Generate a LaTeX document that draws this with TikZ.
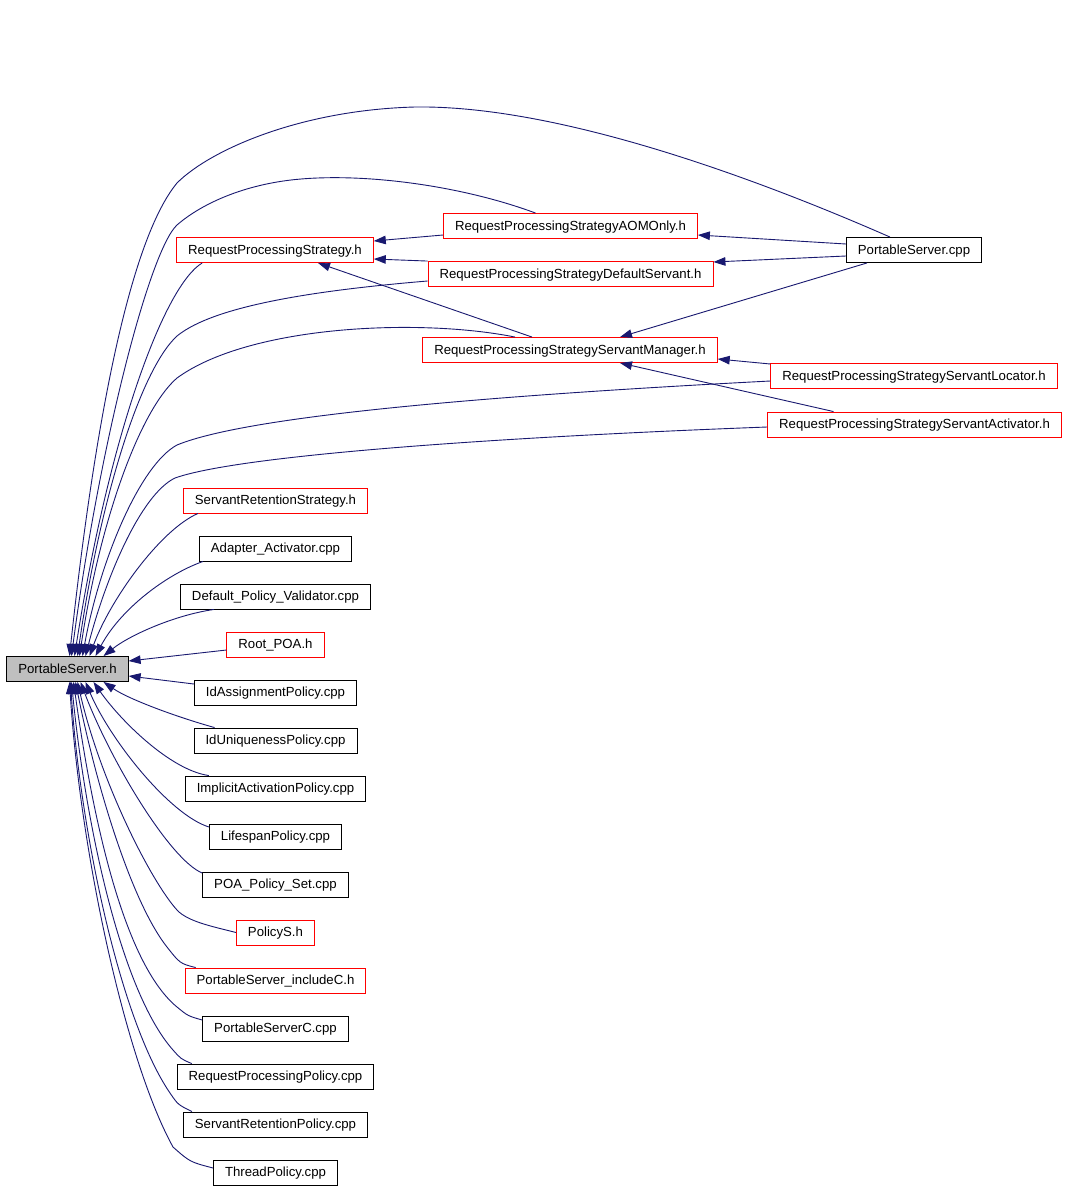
\documentclass[tikz,border=0pt]{standalone}
\usepackage{fontspec}
\setmainfont{Liberation Sans}
\usetikzlibrary{calc,arrows.meta}
\definecolor{edgeblue}{RGB}{25,25,112}
\definecolor{filegray}{RGB}{191,191,191}

\tikzset{
  file/.style={draw=black, line width=0.9pt, minimum height=25pt, inner xsep=11.5pt, inner ysep=0pt,
    text height=10.3pt, text depth=2.3pt, font=\fontsize{13.2}{15}\selectfont},
  redfile/.style={file, draw=red},
  edge/.style={draw=edgeblue, line width=0.9pt, -{Triangle[length=12pt,width=8.5pt]}}
}

\begin{document}
\begin{tikzpicture}[x=1pt,y=-1pt]
\fill[white] (0,0) rectangle (1067,1189);
\useasboundingbox (0,0) rectangle (1067,1189);

% Files
\node[file, fill=filegray] (psh) at (67.5,669) {PortableServer.h};
\node[redfile] (rps) at (275,250) {RequestProcessingStrategy.h};
\node[redfile] (aom) at (570.5,226) {RequestProcessingStrategyAOMOnly.h};
\node[redfile] (dflt) at (570.5,274) {RequestProcessingStrategyDefaultServant.h};
\node[file] (pscpp) at (914,250) {PortableServer.cpp};
\node[redfile] (mgr) at (570,350) {RequestProcessingStrategyServantManager.h};
\node[redfile] (loc) at (914,376) {RequestProcessingStrategyServantLocator.h};
\node[redfile] (act) at (914.5,424.5) {RequestProcessingStrategyServantActivator.h};

% Left column
\node[redfile] (srs) at (275.5,500.5) {ServantRetentionStrategy.h};
\node[file] (adact) at (275.5,548.5) {Adapter\_Activator.cpp};
\node[file] (dpv) at (275.5,596.5) {Default\_Policy\_Validator.cpp};
\node[redfile] (rpoa) at (275.5,644.5) {Root\_POA.h};
\node[file] (idap) at (275.5,692.5) {IdAssignmentPolicy.cpp};
\node[file] (iup) at (275.5,740.5) {IdUniquenessPolicy.cpp};
\node[file] (iap) at (275.5,788.5) {ImplicitActivationPolicy.cpp};
\node[file] (lsp) at (275.5,836.5) {LifespanPolicy.cpp};
\node[file] (pps) at (275.5,884.5) {POA\_Policy\_Set.cpp};
\node[redfile] (pols) at (275.5,932.5) {PolicyS.h};
\node[redfile] (psinc) at (275.5,980.5) {PortableServer\_includeC.h};
\node[file] (psc) at (275.5,1028.5) {PortableServerC.cpp};
\node[file] (rpp) at (275.5,1076.5) {RequestProcessingPolicy.cpp};
\node[file] (srp) at (275.5,1124.5) {ServantRetentionPolicy.cpp};
\node[file] (thp) at (275.5,1172.5) {ThreadPolicy.cpp};

% Edges between the strategy files
\draw[edge] ($(aom.west)+(0,9)$) -- ($(rps.east)+(0,-9)$);
\draw[edge] (dflt.north west) -- ($(rps.east)+(0,9)$);
\draw[edge] ($(mgr.north)+(-38,0)$) -- ($(rps.south)+(43,0)$);
\draw[edge] ($(pscpp.west)+(0,-6)$) -- ($(aom.east)+(0,9)$);
\draw[edge] ($(pscpp.west)+(0,6)$) -- ($(dflt.east)+(0,-12)$);
\draw[edge] ($(pscpp.south)+(-47,0)$) -- ($(mgr.north)+(50,0)$);
\draw[edge] ($(loc.west)+(0,-12)$) -- ($(mgr.east)+(0,9)$);
\draw[edge] ($(act.north)+(-81,0)$) -- ($(mgr.south)+(50,0)$);

% Edges into PortableServer.h from above
\draw[edge] ($(pscpp.north)+(-24,0)$) .. controls (760,180) and (560,105) .. (415,107)
  .. controls (300,110) and (210,150) .. (177,183)
  .. controls (130,240) and (95,420) .. ($(psh.north)+(2,0)$);
\draw[edge] ($(aom.north)+(-35,0)$) .. controls (460,185) and (360,172) .. (291,180)
  .. controls (240,186) and (200,205) .. (177,225)
  .. controls (150,250) and (100,440) .. ($(psh.north)+(4,0)$);
\draw[edge] ($(rps.south west)+(26,0)$) .. controls (165,285) and (110,430) .. ($(psh.north)+(7,0)$);
\draw[edge] ($(dflt.west)+(0,7)$) .. controls (320,290) and (215,305) .. (177,336)
  .. controls (140,370) and (100,500) .. ($(psh.north)+(10,0)$);
\draw[edge] ($(mgr.north)+(-55,0)$) .. controls (420,318) and (250,325) .. (177,378)
  .. controls (140,410) and (100,520) .. ($(psh.north)+(12,0)$);
\draw[edge] ($(loc.west)+(0,5)$) .. controls (500,395) and (250,415) .. (177,445)
  .. controls (140,465) and (100,560) .. ($(psh.north)+(15,0)$);
\draw[edge] ($(act.west)+(0,2.5)$) .. controls (500,437) and (240,455) .. (175,478)
  .. controls (140,495) and (105,580) .. ($(psh.north)+(18,0)$);
\draw[edge] ($(srs.south west)+(15,0)$) .. controls (160,530) and (110,600) .. ($(psh.north)+(22,0)$);
\draw[edge] ($(adact.south west)+(4,0)$) .. controls (165,575) and (120,610) .. ($(psh.north)+(28,0)$);
\draw[edge] ($(dpv.south west)+(34,0)$) .. controls (175,615) and (130,635) .. ($(psh.north)+(36,0)$);

% Edges into PortableServer.h from the side and below
\draw[edge] ($(rpoa.west)+(0,5.5)$) -- ($(psh.east)+(0,-8)$);
\draw[edge] ($(idap.west)+(0,-8.5)$) -- ($(psh.east)+(0,7)$);
\draw[edge] ($(iup.north west)+(21,0)$) .. controls (180,718) and (130,700) .. ($(psh.south)+(36,0)$);
\draw[edge] ($(iap.north west)+(24,0)$) .. controls (170,770) and (120,720) .. ($(psh.south)+(26,0)$);
\draw[edge] ($(lsp.west)+(0,-9.5)$) .. controls (170,815) and (110,740) .. ($(psh.south)+(18,0)$);
\draw[edge] ($(pps.west)+(0,-11.5)$) .. controls (170,860) and (110,760) .. ($(psh.south)+(13,0)$);
\draw[edge] (pols.west) .. controls (215,927) and (188,922) .. (177,910)
  .. controls (150,880) and (100,780) .. ($(psh.south)+(10,0)$);
\draw[edge] ($(psinc.north west)+(11,0)$) .. controls (180,963.5) .. (167,947)
  .. controls (130,900) and (95,780) .. ($(psh.south)+(8,0)$);
\draw[edge] ($(psc.west)+(0,-8.5)$) .. controls (188,1016) .. (177,1007)
  .. controls (120,960) and (90,800) .. ($(psh.south)+(6,0)$);
\draw[edge] ($(rpp.north west)+(15,0)$) .. controls (181,1059) .. (173,1050)
  .. controls (120,990) and (85,820) .. ($(psh.south)+(4,0)$);
\draw[edge] ($(srp.north west)+(9,0)$) .. controls (178,1104.7) .. (170,1093)
  .. controls (120,1020) and (80,830) .. ($(psh.south)+(3,0)$);
\draw[edge] ($(thp.west)+(0,-4.5)$) .. controls (190,1162) .. (173,1147)
  .. controls (125,1060) and (80,850) .. ($(psh.south)+(2,0)$);
\end{tikzpicture}
\end{document}
